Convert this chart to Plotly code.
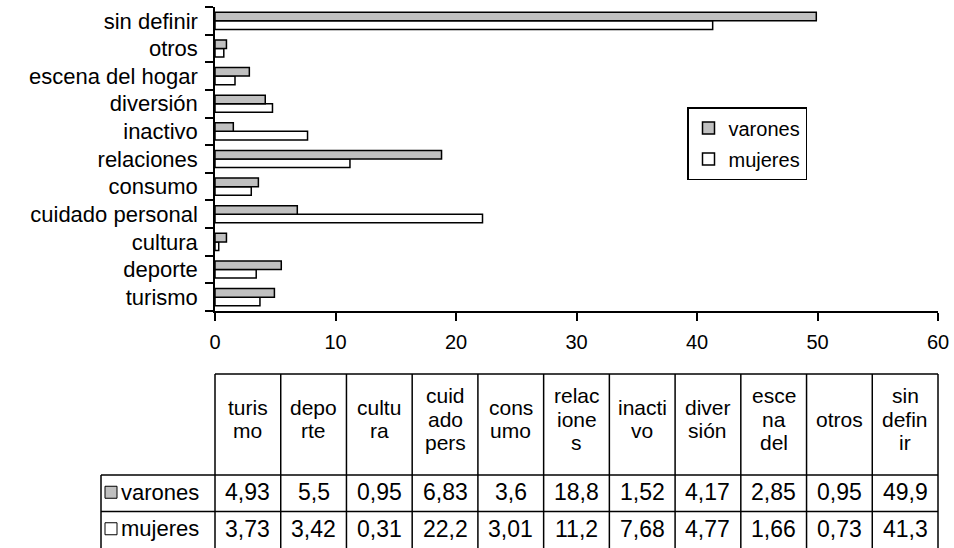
import plotly.graph_objects as go

# ---- data -----------------------------------------------------------------
categories = ["turismo", "deporte", "cultura", "cuidado personal", "consumo",
              "relaciones", "inactivo", "diversión", "escena del hogar",
              "otros", "sin definir"]
varones = [4.93, 5.5, 0.95, 6.83, 3.6, 18.8, 1.52, 4.17, 2.85, 0.95, 49.9]
mujeres = [3.73, 3.42, 0.31, 22.2, 3.01, 11.2, 7.68, 4.77, 1.66, 0.73, 41.3]
series_names = ["varones", "mujeres"]
table_headers = [["turis", "mo"], ["depo", "rte"], ["cultu", "ra"],
                 ["cuid", "ado", "pers"], ["cons", "umo"], ["relac", "ione", "s"],
                 ["inacti", "vo"], ["diver", "sión"], ["esce", "na", "del"],
                 ["otros"], ["sin", "defin", "ir"]]
x_ticks = [0, 10, 20, 30, 40, 50, 60]

# ---- styling ----------------------------------------------------------------
W, H = 954, 548
FONT = "Arial, Liberation Sans, sans-serif"
GRAY = "#c0c0c0"
series_fill = {"varones": GRAY, "mujeres": "white"}


def fx(px):
    return px / W


def fy(px):
    return 1 - px / H


fig = go.Figure()

# mujeres first so that varones sits on top inside each category band
for name, vals, rank in [("mujeres", mujeres, 2), ("varones", varones, 1)]:
    fig.add_trace(go.Bar(
        y=categories, x=vals, name=name, orientation="h",
        marker=dict(color=series_fill[name], line=dict(color="black", width=1.5)),
        legendgroup=name, legendrank=rank,
    ))

# ---- data table below the chart -------------------------------------------
TBL_LEFT, TBL_RIGHT = 215, 938
LBL_LEFT = 101
TBL_TOP, HDR_BOT = 374, 475
ROW_H = 36.5
TBL_BOT = 549
TXT = 22
n_cols = len(table_headers)
col_w = (TBL_RIGHT - TBL_LEFT) / n_cols
line = dict(color="black", width=1.5)

shapes = []
annotations = []

# horizontal rules
shapes.append(dict(type="line", xref="paper", yref="paper",
                   x0=fx(TBL_LEFT), x1=fx(TBL_RIGHT), y0=fy(TBL_TOP), y1=fy(TBL_TOP), line=line))
for yy in [HDR_BOT, HDR_BOT + ROW_H]:
    shapes.append(dict(type="line", xref="paper", yref="paper",
                       x0=fx(LBL_LEFT), x1=fx(TBL_RIGHT), y0=fy(yy), y1=fy(yy), line=line))
# vertical rules
for i in range(n_cols + 1):
    xx = TBL_LEFT + i * col_w
    shapes.append(dict(type="line", xref="paper", yref="paper",
                       x0=fx(xx), x1=fx(xx), y0=fy(TBL_TOP), y1=fy(TBL_BOT), line=line))
shapes.append(dict(type="line", xref="paper", yref="paper",
                   x0=fx(LBL_LEFT), x1=fx(LBL_LEFT), y0=fy(HDR_BOT), y1=fy(TBL_BOT), line=line))

# header text, one annotation per line
HDR_MID = 419
HDR_FONT = 21
LINE_GAP = 23.5
for i, parts in enumerate(table_headers):
    cx = TBL_LEFT + (i + 0.5) * col_w
    n = len(parts)
    for k, txt in enumerate(parts):
        yy = HDR_MID + (k - (n - 1) / 2) * LINE_GAP
        annotations.append(dict(xref="paper", yref="paper", x=fx(cx), y=fy(yy),
                                text=txt, showarrow=False, xanchor="center", yanchor="middle",
                                font=dict(family=FONT, size=HDR_FONT, color="black")))


def fmt(v):
    return f"{v:g}".replace(".", ",")


for r, (name, vals) in enumerate(zip(series_names, [varones, mujeres])):
    cy = HDR_BOT + (r + 0.5) * ROW_H - 1
    # row label with its legend key
    annotations.append(dict(xref="paper", yref="paper", x=fx((LBL_LEFT + TBL_LEFT) / 2 + 2), y=fy(cy),
                            text=name, showarrow=False, xanchor="center", yanchor="middle",
                            font=dict(family=FONT, size=TXT, color="black")))
    shapes.append(dict(type="rect", xref="paper", yref="paper",
                       x0=fx(LBL_LEFT + 4), x1=fx(LBL_LEFT + 16),
                       y0=fy(cy - 6), y1=fy(cy + 6),
                       fillcolor=series_fill[name], line=dict(color="black", width=1)))
    for i, v in enumerate(vals):
        cx = TBL_LEFT + (i + 0.5) * col_w
        annotations.append(dict(xref="paper", yref="paper", x=fx(cx), y=fy(cy),
                                text=fmt(v), showarrow=False, xanchor="center", yanchor="middle",
                                font=dict(family=FONT, size=23, color="black")))

fig.update_layout(
    width=W, height=H,
    margin=dict(l=0, r=0, t=0, b=0),
    paper_bgcolor="white", plot_bgcolor="white",
    font=dict(family=FONT, color="black"),
    barmode="group", bargap=0.38, bargroupgap=0,
    showlegend=True,
    legend=dict(x=fx(687), y=fy(107), xanchor="left", yanchor="top",
                bgcolor="white", bordercolor="black", borderwidth=1.5,
                font=dict(family=FONT, size=20, color="black"),
                tracegroupgap=2, itemclick=False),
    shapes=shapes,
    annotations=annotations,
    xaxis=dict(domain=[fx(TBL_LEFT), fx(TBL_RIGHT)], range=[0, 60], tickvals=x_ticks,
               showline=True, linecolor="black", linewidth=1.5, mirror=False,
               ticks="outside", ticklen=8, tickwidth=1.5, tickcolor="black",
               showgrid=False, zeroline=False, automargin=False,
               tickfont=dict(family=FONT, size=20, color="black"), ticklabelstandoff=4),
    yaxis=dict(domain=[fy(311), fy(7)], categoryorder="array", categoryarray=categories,
               showline=True, linecolor="black", linewidth=1.5,
               ticks="outside", ticklen=8, tickwidth=1.5, tickcolor="black", tickson="boundaries",
               showgrid=False, zeroline=False, automargin=False,
               tickfont=dict(family=FONT, size=22, color="black"), ticklabelstandoff=11),
)

fig.write_html("out.html")
